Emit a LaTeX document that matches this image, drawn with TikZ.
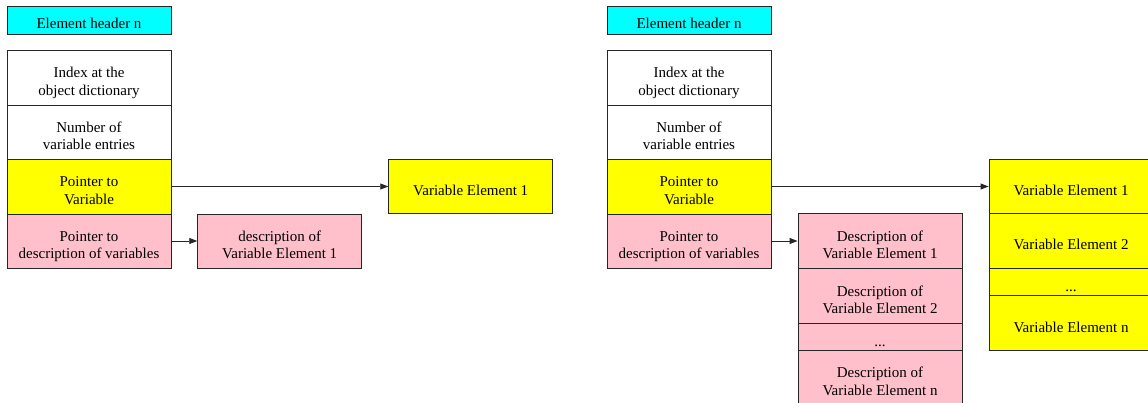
\documentclass[tikz,border=0pt]{standalone}
\usepackage{fontspec}
\setmainfont{Liberation Serif}
\usetikzlibrary{arrows.meta}

\definecolor{hdrcyan}{RGB}{0,255,255}
\definecolor{ptryellow}{RGB}{255,255,0}
\definecolor{descpink}{RGB}{255,192,203}

% label with struts on its first and last line, so that it sits a little
% below the middle of its field
\newcommand\lbl[1]{\rule{0pt}{22pt}#1\rule[-4pt]{0pt}{4pt}}

\tikzset{
  field/.style={draw=black!85, line width=0.9pt, rectangle, inner sep=0pt,
    minimum width=164pt, align=center,
    font=\fontsize{15}{17.7}\selectfont},
  hdr/.style={field, fill=hdrcyan, minimum height=28pt},
  plain/.style={field, fill=white},
  ylw/.style={field, fill=ptryellow},
  pnk/.style={field, fill=descpink},
  link/.style={line width=0.9pt, draw=black!85,
    -{Triangle[length=8pt,width=6pt]}}
}

\begin{document}
\begin{tikzpicture}[x=1pt,y=-1pt]
\useasboundingbox (0,0) rectangle (1148,403);
\clip (0,0) rectangle (1148,403);

% ---- single variable layout ----
\node[hdr] (hdrL) at (89,20) {\lbl{Element header n}};
\node[plain, minimum height=55pt] (idxL) at (89,77.5) {\lbl{Index at the\\object dictionary}};
\node[plain, minimum height=54pt] (numL) at (89,132) {\lbl{Number of\\variable entries}};
\node[ylw, minimum height=55pt] (ptrvL) at (89,186.5) {\lbl{Pointer to\\Variable}};
\node[pnk, minimum height=54pt] (ptrdL) at (89,241) {\lbl{Pointer to\\description of variables}};

\node[ylw, minimum height=54pt] (veL) at (470.7,186.5) {\lbl{Variable Element 1}};
\node[pnk, minimum height=54pt] (descL) at (279.7,241) {\lbl{description of\\Variable Element 1}};

\draw[link] (ptrvL.east) -- (veL.west);
\draw[link] (ptrdL.east) -- (descL.west);

% ---- multiple variable layout ----
\node[hdr] (hdrR) at (689,20) {\lbl{Element header n}};
\node[plain, minimum height=55pt] (idxR) at (689,77.5) {\lbl{Index at the\\object dictionary}};
\node[plain, minimum height=54pt] (numR) at (689,132) {\lbl{Number of\\variable entries}};
\node[ylw, minimum height=55pt] (ptrvR) at (689,186.5) {\lbl{Pointer to\\Variable}};
\node[pnk, minimum height=54pt] (ptrdR) at (689,241) {\lbl{Pointer to\\description of variables}};

\node[ylw, minimum height=54.5pt] (veOneR) at (1071,186.5) {\lbl{Variable Element 1}};
\node[ylw, minimum height=54.5pt] (veTwoR) at (1071,241) {\lbl{Variable Element 2}};
\node[ylw, minimum height=27.5pt] (veDotsR) at (1071,282) {\lbl{...}};
\node[ylw, minimum height=54.5pt] (veNR) at (1071,323) {\lbl{Variable Element n}};

\node[pnk, minimum height=54.5pt] (dOneR) at (880,241) {\lbl{Description of\\Variable Element 1}};
\node[pnk, minimum height=55pt] (dTwoR) at (880,296) {\lbl{Description of\\Variable Element 2}};
\node[pnk, minimum height=27pt] (dDotsR) at (880,337) {\lbl{...}};
\node[pnk, minimum height=55pt] (dNR) at (880,377.5) {\lbl{Description of\\Variable Element n}};

\draw[link] (ptrvR.east) -- (veOneR.west);
\draw[link] (ptrdR.east) -- (dOneR.west);
\end{tikzpicture}
\end{document}
